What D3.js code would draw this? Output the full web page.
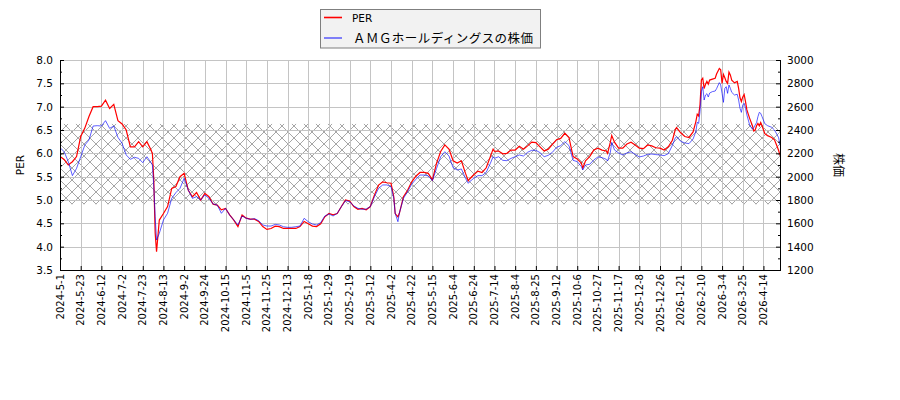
<!DOCTYPE html>
<html>
<head>
<meta charset="utf-8">
<script src="https://cdn.jsdelivr.net/npm/d3@7"></script>
<style>
  body { margin: 0; background: #fff; }
  svg { display: block; font-family: 'DejaVu Sans', sans-serif; }
</style>
</head>
<body>
<div id="chart"></div>
<script>
// trading-day index of each reading (0 = 2024-5-1)
const days = [
  0, 3, 6, 9, 12, 15, 18, 21, 24, 27, 30, 33, 36, 39, 42, 45, 48, 51, 54, 57, 60, 63, 66,
  67, 68, 69, 70,
  72, 75, 78, 81, 84, 87, 90, 93, 96, 99, 102, 105, 108, 111, 114, 117, 120, 123, 126, 129,
  132, 135, 138, 141, 144, 147, 150, 153, 156, 159, 162, 165, 168, 171, 174, 177, 180, 183,
  186, 189, 192, 195, 198, 201, 204, 207, 210, 213, 216, 219, 222, 225, 228, 231, 234, 237, 240,
  242, 243, 245, 246,
  249, 252, 255, 258, 261, 264, 267, 270, 273, 276, 279, 282,
  285, 288, 291, 294, 296, 297, 300, 303, 306, 309, 312, 314,
  315, 318, 321, 324, 327, 330, 333, 336, 339, 342, 345, 348, 351, 354, 357, 360, 363, 366, 369, 372, 375, 378,
  379, 381, 384, 387, 390, 393, 396, 397, 399, 400, 402,
  405, 408, 411, 414, 417, 420, 423, 426, 429, 432, 435, 438, 441, 444,
  446, 447, 450, 453, 456, 459,
  461, 462, 463, 464, 465, 466, 467, 468, 469, 470, 471, 473, 475, 476,
  478, 479, 480, 481, 482, 483, 484, 485, 486, 487, 489,
  491, 492, 493, 494, 495, 496, 497, 498, 500,
  502, 503, 504, 505, 506, 507, 508, 509, 511, 513, 516, 518, 520, 521, 522
]

const per = [
  5.93, 5.87, 5.75, 5.82, 5.93, 6.36, 6.54, 6.79, 7.0, 7.0, 7.01, 7.14, 6.96, 7.05, 6.7, 6.63, 6.5, 6.14, 6.14, 6.25, 6.14, 6.25, 6.07,
  5.99, 5.43, 4.29, 3.89,
  4.57, 4.71, 4.86, 5.25, 5.29, 5.5, 5.57, 5.21, 5.07, 5.16, 5.0, 5.14, 5.07, 4.91, 4.89, 4.79, 4.82, 4.68, 4.57, 4.43,
  4.68, 4.61, 4.59, 4.59, 4.54, 4.43, 4.37, 4.39, 4.44, 4.43, 4.39, 4.39, 4.39, 4.39, 4.43, 4.54, 4.49, 4.44,
  4.43, 4.49, 4.64, 4.71, 4.68, 4.71, 4.86, 5.0, 4.98, 4.86, 4.8, 4.82, 4.79, 4.86, 5.11, 5.32, 5.39, 5.37, 5.36,
  5.07, 4.71, 4.64, 4.71,
  5.07, 5.21, 5.39, 5.51, 5.59, 5.59, 5.57, 5.43, 5.79, 6.04, 6.18, 6.09,
  5.84, 5.79, 5.84, 5.57, 5.41, 5.45, 5.54, 5.62, 5.59, 5.69, 5.93, 6.09,
  6.04, 6.05, 5.99, 6.0, 6.07, 6.07, 6.15, 6.09, 6.16, 6.24, 6.23, 6.14, 6.05, 6.09, 6.19, 6.29, 6.32, 6.43, 6.34, 5.93, 5.88, 5.79,
  5.68, 5.84, 5.93, 6.07, 6.11, 6.07, 6.05, 6.0, 6.24, 6.38, 6.24,
  6.11, 6.11, 6.2, 6.24, 6.18, 6.11, 6.1, 6.18, 6.16, 6.12, 6.11, 6.07, 6.14, 6.28,
  6.5, 6.55, 6.44, 6.36, 6.34, 6.46,
  6.68, 6.84, 6.8, 7.04, 7.57, 7.61, 7.39, 7.48, 7.54, 7.48, 7.57, 7.59, 7.61, 7.7,
  7.82, 7.79, 7.5, 7.69, 7.62, 7.54, 7.5, 7.74, 7.68, 7.57, 7.51,
  7.54, 7.39, 7.19, 7.11, 7.21, 7.26, 7.11, 6.93, 6.75,
  6.59, 6.48, 6.5, 6.59, 6.64, 6.59, 6.66, 6.59, 6.42, 6.38, 6.34, 6.29, 6.14, 6.06, 5.96
]

const price = [
  2249, 2214, 2129, 2009, 2071, 2171, 2271, 2314, 2434, 2437, 2434, 2480, 2414, 2434, 2337, 2286, 2186, 2149, 2166, 2157, 2120, 2171, 2120,
  2100, 1914, 1657, 1457,
  1514, 1629, 1686, 1814, 1863, 1900, 1986, 1886, 1814, 1829, 1800, 1843, 1814, 1766, 1757, 1686, 1729, 1671, 1629, 1586,
  1663, 1643, 1634, 1640, 1623, 1586, 1577, 1577, 1591, 1586, 1571, 1566, 1566, 1571, 1577, 1643, 1614, 1594,
  1586, 1606, 1663, 1680, 1663, 1686, 1743, 1794, 1786, 1749, 1729, 1720, 1723, 1743, 1829, 1900, 1929, 1929, 1914,
  1814, 1686, 1614, 1686,
  1814, 1871, 1937, 1977, 2014, 2014, 2006, 1966, 2071, 2171, 2214, 2177,
  2077, 2057, 2066, 1986, 1943, 1957, 1986, 2009, 2009, 2037, 2114, 2171,
  2157, 2171, 2140, 2137, 2157, 2171, 2186, 2177, 2209, 2226, 2226, 2206, 2171, 2183, 2209, 2251, 2266, 2300, 2266, 2140, 2129, 2086,
  2057, 2100, 2106, 2143, 2169, 2163, 2149, 2134, 2209, 2294, 2229,
  2203, 2186, 2203, 2214, 2191, 2169, 2177, 2191, 2194, 2189, 2186, 2180, 2197, 2269,
  2329, 2343, 2303, 2289, 2283, 2323,
  2386, 2466, 2457, 2557, 2729, 2771, 2657, 2700, 2711, 2683, 2717, 2729, 2734, 2754,
  2806, 2786, 2714, 2637, 2757, 2771, 2714, 2786, 2757, 2723, 2700,
  2706, 2657, 2586, 2551, 2614, 2629, 2586, 2529, 2443,
  2406, 2420, 2443, 2463, 2514, 2551, 2543, 2514, 2454, 2437, 2423, 2400, 2357, 2334, 2271
]

// x tick labels, one every 15 trading days
const tickDays = [0, 15, 30, 45, 60, 75, 90, 105, 120, 135, 150, 165, 180, 195, 210, 225, 240, 255,
  270, 285, 300, 315, 330, 345, 360, 375, 390, 405, 420, 435, 450, 465, 480, 495, 510]
const tickLabels = ['2024-5-1', '2024-5-23', '2024-6-12', '2024-7-2', '2024-7-23', '2024-8-13', '2024-9-2',
  '2024-9-24', '2024-10-15', '2024-11-5', '2024-11-25', '2024-12-13', '2025-1-8', '2025-1-29', '2025-2-19',
  '2025-3-12', '2025-4-2', '2025-4-22', '2025-5-15', '2025-6-4', '2025-6-24', '2025-7-14', '2025-8-4',
  '2025-8-25', '2025-9-12', '2025-10-6', '2025-10-27', '2025-11-17', '2025-12-8', '2025-12-26', '2026-1-21',
  '2026-2-10', '2026-3-4', '2026-3-25', '2026-4-14']

const perTicks = [3.5, 4.0, 4.5, 5.0, 5.5, 6.0, 6.5, 7.0, 7.5, 8.0]
const priceTicks = [1200, 1400, 1600, 1800, 2000, 2200, 2400, 2600, 2800, 3000]
const perBand = [4.91, 6.63]

const legendNames = ['PER', 'ＡＭＧホールディングスの株価']

const width = 900, height = 400
const plot = { left: 60, right: 780, top: 60, bottom: 270 }

const svg = d3.select('#chart').append('svg')
  .attr('width', width)
  .attr('height', height)

svg.append('rect').attr('width', width).attr('height', height).attr('fill', '#fff')

const x = d3.scaleLinear().domain([0, 522]).range([plot.left, plot.right])
const yL = d3.scaleLinear().domain([3.5, 8]).range([plot.bottom, plot.top])
const yR = d3.scaleLinear().domain([1200, 3000]).range([plot.bottom, plot.top])

// cross hatch pattern for the band
const hs = 12
const defs = svg.append('defs')
const pat = defs.append('pattern')
  .attr('id', 'hatch')
  .attr('patternUnits', 'userSpaceOnUse')
  .attr('width', hs)
  .attr('height', hs)
pat.append('path')
  .attr('d', `M0,0L${hs},${hs}M${hs},0L0,${hs}M-2,2L2,-2M${hs - 2},${hs + 2}L${hs + 2},${hs - 2}`)
  .attr('stroke', '#a6a6a6')
  .attr('stroke-width', 1)
  .attr('shape-rendering', 'crispEdges')

defs.append('clipPath').attr('id', 'clip')
  .append('rect')
  .attr('x', plot.left).attr('y', plot.top)
  .attr('width', plot.right - plot.left).attr('height', plot.bottom - plot.top)

svg.append('rect')
  .attr('x', plot.left)
  .attr('y', yL(perBand[1]))
  .attr('width', plot.right - plot.left)
  .attr('height', yL(perBand[0]) - yL(perBand[1]))
  .attr('fill', 'url(#hatch)')

// grid
const grid = svg.append('g').attr('stroke', '#c4c4c4').attr('stroke-width', 1)
grid.selectAll('.gx').data(tickDays).enter().append('line')
  .attr('x1', d => Math.round(x(d)) + 0.5).attr('x2', d => Math.round(x(d)) + 0.5)
  .attr('y1', plot.top).attr('y2', plot.bottom)
grid.selectAll('.gy').data(perTicks).enter().append('line')
  .attr('x1', plot.left).attr('x2', plot.right)
  .attr('y1', d => Math.round(yL(d)) + 0.5).attr('y2', d => Math.round(yL(d)) + 0.5)

// lines
const perLine = d3.line().x((d, i) => x(days[i])).y(d => yL(d))
const priceLine = d3.line().x((d, i) => x(days[i])).y(d => yR(d))

const lines = svg.append('g').attr('clip-path', 'url(#clip)')
lines.append('path')
  .datum(per)
  .attr('d', perLine)
  .attr('fill', 'none')
  .attr('stroke', '#ff0000')
  .attr('stroke-width', 1.2)
lines.append('path')
  .datum(price)
  .attr('d', priceLine)
  .attr('fill', 'none')
  .attr('stroke', '#0000ff')
  .attr('stroke-opacity', 0.7)
  .attr('stroke-width', 0.9)

// axes (ticks point inward)
const axB = svg.append('g')
  .attr('transform', 'translate(0,' + plot.bottom + ')')
  .call(d3.axisTop(x).tickValues(tickDays).tickFormat('').tickSizeInner(4).tickSizeOuter(0))
axB.select('.domain').remove()

const axL = svg.append('g')
  .attr('transform', 'translate(' + plot.left + ',0)')
  .call(d3.axisRight(yL).tickValues(d3.range(3.5, 8.01, 0.25)).tickFormat('')
    .tickSizeInner(2).tickSizeOuter(0))
axL.select('.domain').remove()
axL.selectAll('.tick line').filter(d => perTicks.includes(+d.toFixed(2))).attr('x2', 4)

const axR = svg.append('g')
  .attr('transform', 'translate(' + plot.right + ',0)')
  .call(d3.axisLeft(yR).tickValues(d3.range(1200, 3001, 100)).tickFormat('')
    .tickSizeInner(2).tickSizeOuter(0))
axR.select('.domain').remove()
axR.selectAll('.tick line').filter(d => priceTicks.includes(d)).attr('x2', -4)

svg.selectAll('.tick line').attr('stroke', '#000')

// spines
const spine = svg.append('g').attr('stroke', '#000').attr('stroke-width', 1)
spine.append('line').attr('x1', plot.left + 0.5).attr('x2', plot.left + 0.5).attr('y1', plot.top).attr('y2', plot.bottom)
spine.append('line').attr('x1', plot.right + 0.5).attr('x2', plot.right + 0.5).attr('y1', plot.top).attr('y2', plot.bottom)
spine.append('line').attr('x1', plot.left).attr('x2', plot.right + 1).attr('y1', plot.bottom + 0.5).attr('y2', plot.bottom + 0.5)

// tick labels
svg.append('g').selectAll('text').data(tickDays).enter().append('text')
  .attr('transform', d => 'translate(' + (x(d) + 3.5) + ',' + (plot.bottom + 4) + ') rotate(-90)')
  .attr('text-anchor', 'end')
  .attr('font-size', 10)
  .attr('fill', '#000')
  .text((d, i) => tickLabels[i])

svg.append('g').selectAll('text').data(perTicks).enter().append('text')
  .attr('x', plot.left - 7)
  .attr('y', d => yL(d) + 4)
  .attr('text-anchor', 'end')
  .attr('font-size', 10.5)
  .text(d => d.toFixed(1))

svg.append('g').selectAll('text').data(priceTicks).enter().append('text')
  .attr('x', plot.right + 7)
  .attr('y', d => yR(d) + 4)
  .attr('font-size', 10.5)
  .text(d => d)

// axis titles
svg.append('text')
  .attr('transform', 'translate(24,165) rotate(-90)')
  .attr('text-anchor', 'middle')
  .attr('font-size', 10.5)
  .text('PER')

svg.append('text')
  .attr('transform', 'translate(834,165) rotate(90)')
  .attr('text-anchor', 'middle')
  .attr('font-size', 12)
  .attr('font-family', "'Noto Sans CJK JP', sans-serif")
  .text('株価')

// legend
const lg = svg.append('g')
lg.append('rect')
  .attr('x', 320.5).attr('y', 9.5)
  .attr('width', 220).attr('height', 38.5)
  .attr('fill', '#f2f2f2')
  .attr('stroke', '#7f7f7f')
lg.append('line').attr('x1', 324).attr('x2', 342).attr('y1', 17.5).attr('y2', 17.5)
  .attr('stroke', '#ff0000').attr('stroke-width', 1.6)
lg.append('line').attr('x1', 324).attr('x2', 342).attr('y1', 38).attr('y2', 38)
  .attr('stroke', '#0000ff').attr('stroke-opacity', 0.6).attr('stroke-width', 1.6)
lg.append('text').attr('x', 352).attr('y', 21.5).attr('font-size', 10.5).text(legendNames[0])
lg.append('text').attr('x', 353).attr('y', 42.5)
  .attr('font-size', 12.5)
  .attr('font-family', "'Noto Sans CJK JP', sans-serif")
  .attr('textLength', 180)
  .attr('lengthAdjust', 'spacing')
  .text(legendNames[1])
</script>
</body>
</html>
